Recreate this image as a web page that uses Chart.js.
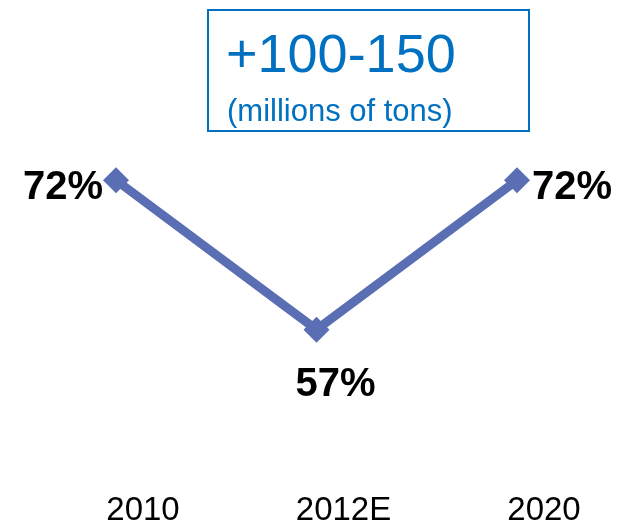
<!DOCTYPE html>
<html lang="en">
<head>
  <meta charset="UTF-8">
  <title>Share trend</title>
  <style>
    body {
      margin: 0;
      padding: 0;
      background: #ffffff;
      font-family: "Liberation Sans", Arial, sans-serif;
    }

    .wrap {
      position: relative;
      width: 621px;
      height: 524px;
    }

    .callout {
      position: absolute;
      left: 207px;
      top: 9px;
      width: 323px;
      height: 123px;
      box-sizing: border-box;
      border: 2px solid #0070c0;
      color: #0070c0;
    }

    .callout span {
      position: absolute;
      white-space: nowrap;
      line-height: 1;
    }

    .callout .big {
      left: 17px;
      top: 15px;
      font-size: 54px;
    }

    .callout .small {
      left: 18px;
      top: 84px;
      font-size: 31px;
    }
  </style>
</head>
<body>
  <div class="wrap">
    <canvas id="shareChart" width="621" height="524"></canvas>
    <div class="callout">
      <span class="big">+100-150</span>
      <span class="small">(millions of tons)</span>
    </div>
  </div>

  <script src="https://cdn.jsdelivr.net/npm/chart.js"></script>
  <script>
    const years = ['2010', '2012E', '2020'];
    const shares = [72, 57, 72];
    // where each value label sits relative to its point
    const labelSpots = ['left', 'below', 'right'];

    const lineColor = '#5a6eb4';

    // writes "72%" etc next to each point
    const valueLabels = {
      id: 'valueLabels',
      afterDatasetsDraw(chart) {
        const ctx = chart.ctx;
        const meta = chart.getDatasetMeta(0);
        ctx.save();
        ctx.font = 'bold 40px "Liberation Sans", Arial, sans-serif';
        ctx.fillStyle = '#000000';
        ctx.textBaseline = 'middle';
        meta.data.forEach((pt, i) => {
          const text = shares[i] + '%';
          const spot = labelSpots[i];
          if (spot === 'left') {
            ctx.textAlign = 'right';
            ctx.fillText(text, pt.x - 13, pt.y + 8);
          } else if (spot === 'right') {
            ctx.textAlign = 'left';
            ctx.fillText(text, pt.x + 15, pt.y + 8);
          } else {
            ctx.textAlign = 'center';
            ctx.fillText(text, pt.x + 19, pt.y + 55);
          }
        });
        ctx.restore();
      }
    };

    new Chart(document.getElementById('shareChart'), {
      type: 'line',
      data: {
        labels: years,
        datasets: [{
          data: shares,
          borderColor: lineColor,
          backgroundColor: lineColor,
          borderWidth: 9,
          pointStyle: 'rectRot',
          pointRadius: 13,
          pointHoverRadius: 13,
          pointBorderWidth: 0,
          tension: 0,
          fill: false
        }]
      },
      options: {
        responsive: false,
        animation: false,
        layout: {
          autoPadding: false,
          padding: { left: 116, right: 104, top: 0, bottom: 0 }
        },
        plugins: {
          legend: { display: false },
          tooltip: { enabled: false }
        },
        scales: {
          x: {
            offset: false,
            grid: { display: false, drawTicks: false },
            border: { display: false },
            // keep the year labels close to the bottom edge
            afterFit(scale) {
              scale.height -= 17;
            },
            ticks: {
              color: '#000000',
              padding: 14,
              labelOffset: 27,
              maxRotation: 0,
              font: { family: '"Liberation Sans", Arial, sans-serif', size: 33, lineHeight: 1 }
            }
          },
          y: {
            display: false,
            min: 41.9,
            max: 90.1
          }
        }
      },
      plugins: [valueLabels]
    });
  </script>
</body>
</html>
